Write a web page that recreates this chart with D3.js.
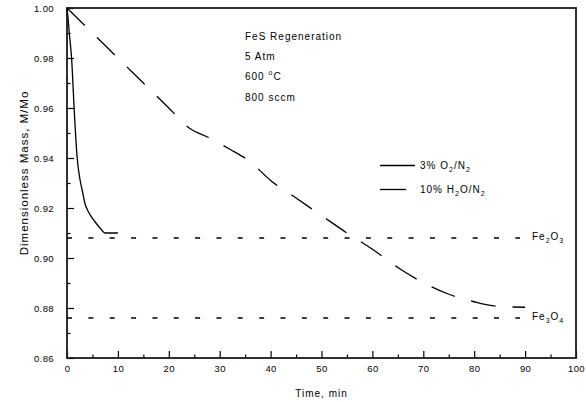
<!DOCTYPE html>
<html>
<head>
<meta charset="utf-8">
<script src="https://cdn.jsdelivr.net/npm/d3@7"></script>
<style>
  body { margin: 0; background: #fff; }
  svg { display: block; font-family: "Liberation Sans", Arial, sans-serif; }
  .axis text { font-size: 9.5px; fill: #000; letter-spacing: 0.4px; }
  .lbl { font-size: 10px; fill: #000; letter-spacing: 1px; }
</style>
</head>
<body>
<div id="chart"></div>
<script>
(function(){

    // 3% O2/N2 run
    var o2Time = [0, 0.2, 0.45, 0.9, 1.4, 2.0, 2.5, 3.1, 3.5, 4.2, 5.5, 6.5, 7.5, 10];
    var o2Mass = [1.0, 0.996, 0.99, 0.98, 0.96, 0.94, 0.932, 0.926, 0.922, 0.9185, 0.9145, 0.912, 0.910, 0.910];

    // 10% H2O/N2 run
    var h2oTime = [0, 5, 10, 15, 20, 24, 28, 32, 36, 40, 45, 50, 55, 60, 65, 70, 75, 80, 85, 90];
    var h2oMass = [1.0, 0.990, 0.980, 0.970, 0.960, 0.952, 0.948, 0.9435, 0.9385, 0.931, 0.924, 0.917, 0.910, 0.9035, 0.8962, 0.8901, 0.8855, 0.8825, 0.8806, 0.8803];

    // reference levels
    var refNames = ["Fe2O3", "Fe3O4"];
    var refValues = [0.908, 0.876];
    var refRange = [0, 89];

    var xTicks = [0, 10, 20, 30, 40, 50, 60, 70, 80, 90, 100];
    var yTicks = [0.86, 0.88, 0.90, 0.92, 0.94, 0.96, 0.98, 1.00];

    var notes = ["FeS Regeneration", "5 Atm", "600 \u00B0C", "800 sccm"];

    var width = 586, height = 402;
    var left = 67, right = 576, top = 8, bottom = 358;

    var svg = d3.select("#chart")
      .append("svg")
      .attr("width", width)
      .attr("height", height);

    var x = d3.scaleLinear().domain([0, 100]).range([left, right]);
    var y = d3.scaleLinear().domain([0.86, 1.00]).range([bottom, top]);

    // minor ticks first
    svg.append("g")
      .attr("class", "axis")
      .attr("transform", "translate(0," + bottom + ")")
      .call(d3.axisBottom(x).tickValues(d3.range(5, 100, 10)).tickSize(-3.5).tickFormat(""))
      .call(function(g){ g.select(".domain").remove(); });

    svg.append("g")
      .attr("class", "axis")
      .attr("transform", "translate(" + left + ",0)")
      .call(d3.axisLeft(y).tickValues(d3.range(0.87, 1.0, 0.02)).tickSize(-3.5).tickFormat(""))
      .call(function(g){ g.select(".domain").remove(); });

    svg.append("g")
      .attr("class", "axis")
      .attr("transform", "translate(0," + bottom + ")")
      .call(d3.axisBottom(x).tickValues(xTicks).tickSize(-7).tickPadding(7).tickFormat(d3.format("d")))
      .call(function(g){ g.select(".domain").remove(); });

    svg.append("g")
      .attr("class", "axis")
      .attr("transform", "translate(" + left + ",0)")
      .call(d3.axisLeft(y).tickValues(yTicks).tickSize(-7).tickPadding(13).tickFormat(d3.format(".2f")))
      .call(function(g){ g.select(".domain").remove(); });

    svg.selectAll(".axis line").attr("stroke", "#000").attr("stroke-width", 1.2);

    // frame
    svg.append("rect")
      .attr("x", left)
      .attr("y", top)
      .attr("width", right - left)
      .attr("height", bottom - top)
      .attr("fill", "none")
      .attr("stroke", "#1a1a1a")
      .attr("stroke-width", 1.8);

    // reference dashed lines
    refValues.forEach(function(v, i){
      svg.append("line")
        .attr("x1", x(refRange[0]))
        .attr("x2", x(refRange[1]))
        .attr("y1", y(v))
        .attr("y2", y(v))
        .attr("stroke", "#000")
        .attr("stroke-width", 1.3)
        .attr("stroke-dasharray", "5,16.35");

      var t = svg.append("text")
        .attr("class", "lbl")
        .attr("x", 532)
        .attr("y", y(v) + 2);
      t.append("tspan").text("Fe");
      t.append("tspan").attr("font-size", "7px").attr("dy", 3).text(refNames[i].charAt(2));
      t.append("tspan").attr("dy", -3).text("O");
      t.append("tspan").attr("font-size", "7px").attr("dy", 3).text(refNames[i].charAt(4));
    });

    var line = d3.line()
      .x(function(d){ return x(d[0]); })
      .y(function(d){ return y(d[1]); })
      .curve(d3.curveMonotoneX);

    svg.append("path")
      .datum(o2Time.map(function(t, i){ return [t, o2Mass[i]]; }))
      .attr("d", line)
      .attr("fill", "none")
      .attr("stroke", "#000")
      .attr("stroke-width", 1.3);

    svg.append("path")
      .datum(h2oTime.map(function(t, i){ return [t, h2oMass[i]]; }))
      .attr("d", line)
      .attr("fill", "none")
      .attr("stroke", "#000")
      .attr("stroke-width", 1.3)
      .attr("stroke-dasharray", "25,17");

    // legend
    svg.append("line")
      .attr("x1", 380).attr("x2", 415).attr("y1", 165.5).attr("y2", 165.5)
      .attr("stroke", "#000").attr("stroke-width", 1.3);
    svg.append("line")
      .attr("x1", 380).attr("x2", 415).attr("y1", 189.5).attr("y2", 189.5)
      .attr("stroke", "#000").attr("stroke-width", 1.3)
      .attr("stroke-dasharray", "26,17");

    var l1 = svg.append("text").attr("class", "lbl").attr("x", 420).attr("y", 169);
    l1.append("tspan").text("3% O");
    l1.append("tspan").attr("font-size", "7px").attr("dy", 3).text("2");
    l1.append("tspan").attr("dy", -3).text("/N");
    l1.append("tspan").attr("font-size", "7px").attr("dy", 3).text("2");

    var l2 = svg.append("text").attr("class", "lbl").attr("x", 420).attr("y", 193);
    l2.append("tspan").text("10% H");
    l2.append("tspan").attr("font-size", "7px").attr("dy", 3).text("2");
    l2.append("tspan").attr("dy", -3).text("O/N");
    l2.append("tspan").attr("font-size", "7px").attr("dy", 3).text("2");

    // notes
    notes.forEach(function(n, i){
      var t = svg.append("text")
        .attr("class", "lbl")
        .attr("x", 245)
        .attr("y", 40 + i * 20.2);
      if (n.indexOf("\u00B0") > -1) {
        t.append("tspan").text("600 ");
        t.append("tspan").attr("font-size", "7px").attr("dy", -5).text("o");
        t.append("tspan").attr("dy", 5).text("C");
      } else {
        t.text(n);
      }
    });

    // axis titles
    svg.append("text")
      .attr("class", "lbl")
      .attr("x", (left + right) / 2)
      .attr("y", 397)
      .attr("text-anchor", "middle")
      .text("Time, min");

    svg.append("text")
      .attr("class", "lbl")
      .attr("transform", "translate(28," + ((top + bottom) / 2 - 10) + ") rotate(-90)")
      .attr("text-anchor", "middle")
      .style("font-size", "11.5px")
      .text("Dimensionless Mass, M/Mo");

})();
</script>
</body>
</html>
